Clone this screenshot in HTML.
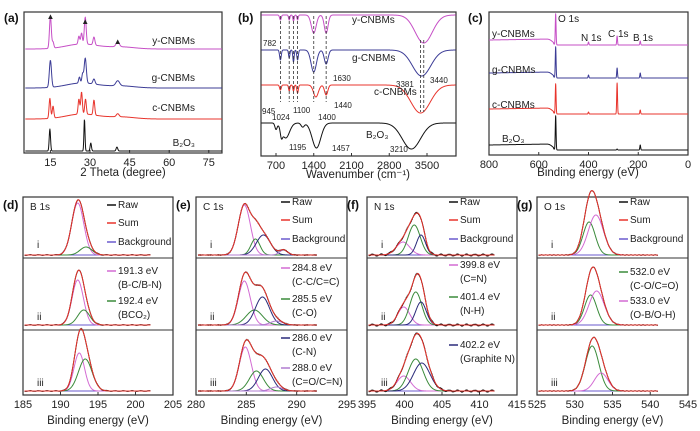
<!DOCTYPE html>
<html><head><meta charset="utf-8">
<style>
html,body{margin:0;padding:0;background:#fff;}
svg{display:block;font-family:"Liberation Sans",Arial,sans-serif;}
.tk{font-size:11px;fill:#222;text-anchor:middle;}
.ttl{font-size:11.5px;fill:#222;text-anchor:middle;}
.pl{font-size:12px;font-weight:bold;fill:#111;}
.lg{font-size:10px;fill:#222;}
.sm{font-size:8px;fill:#222;}
</style></head>
<body>
<svg id="fig" width="700" height="431" viewBox="0 0 700 431" xmlns="http://www.w3.org/2000/svg"></svg>
<script>
// ---------- DATA ----------
const xrdTicks=[15,30,45,60,75];
const xrdNames=["y-CNBMs","g-CNBMs","c-CNBMs","B2O3"];
const xrdBase=[49,88,119,151];
const xrdPeaksY=[[15,32,0.35],[16,6,0.3],[25.8,8,0.3],[26.8,11,0.3],[28.2,27,0.35],[31.5,8,0.35],[40.5,5,0.6]];
const xrdPeaksG=[[15,27,0.4],[26,6,0.3],[27.2,9,0.3],[28.2,25,0.4],[31.5,5,0.4],[40.5,5,0.7]];
const xrdPeaksC=[[14.8,20,0.3],[16,12,0.3],[25.8,15,0.3],[26.8,22,0.3],[28.3,15,0.3],[31.5,15,0.3],[40.5,3,0.5]];
const xrdPeaksB=[[14.8,22,0.25],[27.9,32,0.2],[30.3,8,0.25],[40.2,4,0.3]];
const ftirTicks=[700,1400,2100,2800,3500];
const ftirBase=[15,50,85,123];
const ftirDipsY=[[782,5,15],[945,5,12],[1024,6,12],[1100,5,12],[1400,18,45],[1630,18,35],[3440,28,160]];
const ftirDipsG=[[782,10,15],[945,8,12],[1024,12,12],[1100,10,14],[1400,22,50],[1630,14,35],[3400,26,170]];
const ftirDipsC=[[782,5,15],[945,6,12],[1024,6,12],[1100,8,14],[1440,12,45],[1630,10,30],[3381,28,180]];
const ftirDipsB=[[700,6,20],[800,8,20],[880,15,70],[1195,4,30],[1450,25,80],[3210,26,170]];
const surveyTicks=[800,600,400,200,0];
const surveyBase=[45,78,114,150];
const surveyPeaks=[
 [[532,31],[400,3],[285,9],[192,4]],
 [[532,31],[400,3],[285,10],[192,5]],
 [[532,30],[400,2],[285,31],[192,4]],
 [[532,34],[400,0],[285,1],[192,5]]];
// XPS high-resolution [center, amplitude, sigma]; rows i, ii, iii
const b1sI=[[192.3,52,0.8],[193.4,8,0.8]];
const b1sII=[[192.3,45,0.75],[193.1,15,0.8]];
const b1sIII=[[192.5,38,0.7],[193.3,32,0.9]];
const c1sI=[[284.8,50,0.6],[285.9,16,0.45],[286.7,20,0.7],[288.7,5,0.4]];
const c1sII=[[284.8,44,0.6],[285.8,15,0.8],[286.6,28,0.7],[288,4,0.6]];
const c1sIII=[[284.9,44,0.6],[286.0,20,0.7],[286.9,22,0.7],[288,4,0.6]];
const n1sI=[[399.8,13,0.9],[401.3,30,0.8],[402.2,20,0.6]];
const n1sII=[[399.9,18,0.8],[401.5,33,0.8],[402.2,23,0.7]];
const n1sIII=[[399.9,15,0.9],[401.5,32,1.0],[402.3,28,1.1]];
const o1sI=[[531.9,33,0.8],[532.8,40,1.0]];
const o1sII=[[532.1,30,0.8],[532.9,34,1.0]];
const o1sIII=[[532.3,45,0.9],[533.5,18,0.9]];

// ---------- HELPERS ----------
const NS="http://www.w3.org/2000/svg";
const svg=document.getElementById("fig");
function mk(tag,attrs,txt){const e=document.createElementNS(NS,tag);for(const k in attrs)e.setAttribute(k,attrs[k]);if(txt!==undefined)e.textContent=txt;svg.appendChild(e);return e;}
function g(x,c,a,s){return a*Math.exp(-0.5*((x-c)/s)*((x-c)/s));}
function curve(x0,x1,n,f,sx,sy){let d="";for(let i=0;i<=n;i++){const x=x0+(x1-x0)*i/n;d+=(i?"L":"M")+sx(x).toFixed(2)+" "+sy(f(x)).toFixed(2);}return d;}
function lin(d0,d1,r0,r1){return v=>r0+(v-d0)*(r1-r0)/(d1-d0);}
function box(x,y,w,h,name){const r=mk("rect",{x:x,y:y,width:w,height:h,fill:"none",stroke:"#333","stroke-width":1.2});}
function txt(x,y,s,cls,name,extra){const t=mk("text",Object.assign({x:x,y:y,class:cls},extra||{}),s);return t;}
function ticks(vals,sx,yb,name){vals.forEach(v=>{const l=mk("line",{x1:sx(v),x2:sx(v),y1:yb,y2:yb-3,stroke:"#333"});txt(sx(v),yb+13,String(v),"tk",name+'-tick-label');});}
function pathEl(d,col,w,name){const p=mk("path",{d:d,fill:"none",stroke:col,"stroke-width":w,"stroke-linejoin":"round"});return p;}
const colY="#c64fc6",colG="#3c3c96",colC="#e8342c",colK="#111";

// ---------- (a) XRD ----------
box(24,12,198,141,"xrd-plot-frame");
txt(4,22,"(a)","pl","panel-label-a");
const sxA=lin(5,80,24,222);
ticks(xrdTicks,sxA,153,"xrd-x");
txt(123,176,"2 Theta (degree)","ttl","xrd-x-axis-title");
[[xrdPeaksY,colY],[xrdPeaksG,colG],[xrdPeaksC,colC],[xrdPeaksB,colK]].forEach((p,i)=>{
 const base=xrdBase[i];
 const hump=i<3?(x=>g(x,27,5,6)+g(x,42,2,5)):(x=>0);
 const f=x=>p[0].reduce((s,q)=>s+g(x,q[0],q[1],q[2]),0)+hump(x);
 pathEl(curve(5.5,80,600,f,sxA,v=>base-v),p[1],1,"xrd-trace-"+xrdNames[i]);
});
txt(195,44,"y-CNBMs","lg","xrd-label-y",{fill:colY,"text-anchor":"end","font-size":"11"});
txt(195,81,"g-CNBMs","lg","xrd-label-g",{fill:colG,"text-anchor":"end","font-size":"11"});
txt(195,111,"c-CNBMs","lg","xrd-label-c",{fill:colC,"text-anchor":"end","font-size":"11"});
txt(195,146,"B₂O₃","lg","xrd-label-b2o3",{"text-anchor":"end","font-size":"11"});
[[15,19],[28.2,24],[40.5,44]].forEach(t=>txt(sxA(t[0]),t[1],"▲","sm","xrd-peak-marker",{"text-anchor":"middle","font-size":"8"}));

// ---------- (b) FTIR ----------
box(261,12,195,144,"ftir-plot-frame");
txt(238,22,"(b)","pl","panel-label-b");
const sxB=lin(700,3500,276,427);
ticks(ftirTicks,sxB,156,"ftir-x");
txt(358,178,"Wavenumber (cm⁻¹)","ttl","ftir-x-axis-title");
[[ftirDipsY,colY],[ftirDipsG,colG],[ftirDipsC,colC],[ftirDipsB,colK]].forEach((p,i)=>{
 const base=ftirBase[i];
 const f=x=>p[0].reduce((s,q)=>s+g(x,q[0],q[1],q[2]),0);
 pathEl(curve(430,4030,700,f,sxB,v=>base+v),p[1],1,"ftir-trace-"+i);
});
[782,945,1024,1100,1400,1630,3381,3440].forEach(w=>{const l=mk("line",{x1:sxB(w),x2:sxB(w),y1:w>3000?40:16,y2:w>3000?112:102,stroke:"#333","stroke-dasharray":"3,2","stroke-width":0.8});});
txt(352,23,"y-CNBMs","lg","ftir-label-y",{fill:colY,"font-size":"11"});
txt(352,61,"g-CNBMs","lg","ftir-label-g",{fill:colG,"font-size":"11"});
txt(374,95,"c-CNBMs","lg","ftir-label-c",{fill:colC,"font-size":"11"});
txt(366,138,"B₂O₃","lg","ftir-label-b2o3",{"font-size":"11"});
[["782",263,46],["945",262,114],["1024",272,120],["1100",293,113],["1400",318,120],["1440",334,108],["1630",333,81],["3381",396,87],["3440",430,83],["1195",289,150],["1457",332,151],["3210",390,152]].forEach(a=>txt(a[1],a[2],a[0],"sm","ftir-band-annotation"));

// ---------- (c) XPS survey ----------
box(489,12,199,143,"survey-plot-frame");
txt(468,22,"(c)","pl","panel-label-c");
const sxC=lin(800,0,489,688);
ticks(surveyTicks,sxC,155,"survey-x");
txt(588,176,"Binding energy (eV)","ttl","survey-x-axis-title");
const surCols=[colY,colG,colC,colK];
surveyPeaks.forEach((p,i)=>{
 const base=surveyBase[i];
 const f=x=>p.reduce((s,q)=>s+g(x,q[0],q[1],1.6),0)+5/(1+Math.exp(-(x-540)/4))-1.5*g(x,545,1,8)+ (x>540?(800-x)*0.004:0);
 pathEl(curve(0,800,1600,f,sxC,v=>base-v),surCols[i],1,"survey-trace-"+i);
});
txt(492,37,"y-CNBMs","lg","survey-label-y",{fill:colY,"font-size":"11"});
txt(492,73,"g-CNBMs","lg","survey-label-g",{fill:colG,"font-size":"11"});
txt(492,108,"c-CNBMs","lg","survey-label-c",{fill:colC,"font-size":"11"});
txt(502,142,"B₂O₃","lg","survey-label-b2o3",{"font-size":"11"});
txt(558,22,"O 1s","lg","survey-o1s-label",{"font-size":"11"});
txt(581,41,"N 1s","lg","survey-n1s-label",{"font-size":"11"});
txt(608,37,"C 1s","lg","survey-c1s-label",{"font-size":"11"});
txt(633,41,"B 1s","lg","survey-b1s-label",{"font-size":"11"});

// ---------- XPS high-res panels ----------
const rowBase=[257,327,393];
const compColsB=["#d36bd3","#3a8a3a"];
const compColsC=["#d36bd3","#3a8a3a","#2a2a7a","#b07cd0"];
const compColsN=["#d36bd3","#3a8a3a","#2a2a7a"];
const compColsO=["#3a8a3a","#d36bd3"];
function hrPanel(x0,x1,d0,d1,e1,ticksV,rows,cols,lab,lab2,name,noise){
 box(x0,197,x1-x0,198,name+"-frame");
 [258,330].forEach(y=>{const l=mk("line",{x1:x0,x2:x1,y1:y,y2:y,stroke:"#333","stroke-width":1});});
 const sx=lin(d0,d1,x0,x1);
 ticks(ticksV,sx,395,name+"-x");
 txt((x0+x1)/2,424,"Binding energy (eV)","ttl",name+"-x-axis-title");
 txt(x0-20,209,lab,"pl","panel-label-"+name);
 txt(x0+7,210,lab2,"lg",name+"-core-level-label",{"font-size":"11"});
 rows.forEach((pk,r)=>{
  const base=rowBase[r]-2;
  const sy=v=>base-v;
  pathEl(curve(d0+0.2,e1,300,x=>0,sx,sy),"#6a5acd",0.9,name+"-background-"+r);
  pk.forEach((q,k)=>pathEl(curve(d0+0.2,e1,400,x=>g(x,q[0],q[1],q[2]),sx,sy),cols[k],1,name+"-component-"+r+"-"+k));
  const f=x=>pk.reduce((s,q)=>s+g(x,q[0],q[1],q[2]),0);
  pathEl(curve(d0+0.2,e1,260,x=>f(x)+noise*(Math.sin(x*91.7)*0.6+Math.sin(x*53.3)*0.4),sx,sy),"#111",1,name+"-raw-"+r);
  pathEl(curve(d0+0.2,e1,500,f,sx,sy),"#e8342c",1,name+"-sum-"+r);
  txt(x0+14,[248,320,386][r],["i","ii","iii"][r],"lg",name+"-row-label",{"font-size":"10"});
 });
}
hrPanel(23,173,185,205,202,[185,190,195,200,205],[b1sI,b1sII,b1sIII],compColsB,"(d)","B 1s","b1s",0.5);
hrPanel(196,347,280,295,292,[280,285,290,295],[c1sI,c1sII,c1sIII],compColsC,"(e)","C 1s","c1s",0.5);
hrPanel(367,517,395,415,412,[395,400,405,410,415],[n1sI,n1sII,n1sIII],compColsN,"(f)","N 1s","n1s",1.2);
hrPanel(537,688,525,545,541,[525,530,535,540,545],[o1sI,o1sII,o1sIII],compColsO,"(g)","O 1s","o1s",0.4);
function legend(x,items){items.forEach(it=>{
 if(it[2]){const l=mk("line",{x1:x,x2:x+9,y1:it[1]-3,y2:it[1]-3,stroke:it[2],"stroke-width":1.5});}
 txt(x+11,it[1],it[0],"lg","legend-entry");});}
const rawLeg=y=>[["Raw",y,"#111"],["Sum",y+18,"#e8342c"],["Background",y+37,"#6a5acd"]];
legend(107,rawLeg(208).concat([["191.3 eV",274,"#d36bd3"],["(B-C/B-N)",288],["192.4 eV",304,"#3a8a3a"],["(BCO₂)",318]]));
legend(281,rawLeg(205).concat([["284.8 eV",271,"#d36bd3"],["(C-C/C=C)",285],["285.5 eV",302,"#3a8a3a"],["(C-O)",316],["286.0 eV",341,"#2a2a7a"],["(C-N)",355],["288.0 eV",371,"#b07cd0"],["(C=O/C=N)",385]]));
legend(449,rawLeg(205).concat([["399.8 eV",268,"#d36bd3"],["(C=N)",282],["401.4 eV",300,"#3a8a3a"],["(N-H)",314],["402.2 eV",348,"#2a2a7a"],["(Graphite N)",362]]));
legend(619,rawLeg(205).concat([["532.0 eV",275,"#3a8a3a"],["(C-O/C=O)",289],["533.0 eV",304,"#d36bd3"],["(O-B/O-H)",318]]));
</script>
</body></html>
